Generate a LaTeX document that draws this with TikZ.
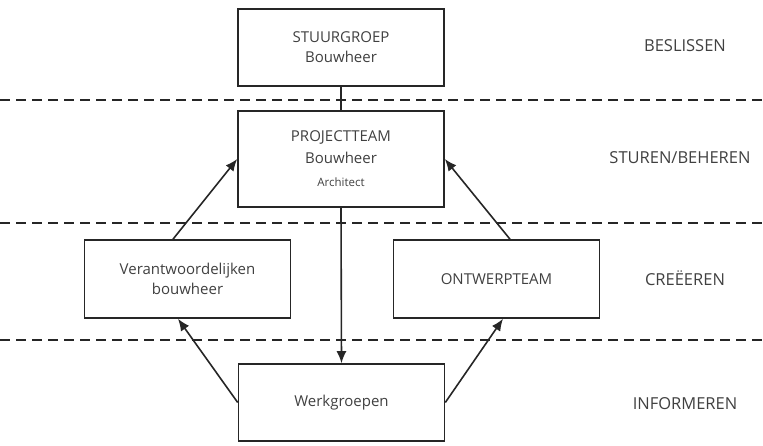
\documentclass[tikz,border=0pt]{standalone}
\usepackage{fontspec}
\setmainfont{Open Sans}
\usetikzlibrary{arrows.meta}

\tikzset{
  orgbox/.style={draw=black!85, line width=1.6pt, rectangle, align=center,
    minimum width=206pt, text=black!75, font=\fontsize{15}{20}\selectfont},
  levellabel/.style={text=black!75, font=\fontsize{16.5}{20}\selectfont},
  flow/.style={line width=1.6pt, draw=black!85, -{Latex[length=12pt,width=10pt]}},
  divider/.style={line width=1.8pt, draw=black!85, dash pattern=on 10pt off 6pt}
}

\begin{document}
\begin{tikzpicture}[x=1pt,y=-1pt]

    \useasboundingbox (0,0) rectangle (763,446);

    % Dashed level dividers
    \draw[divider] (0,100) -- (763,100);
    \draw[divider] (0,223) -- (763,223);
    \draw[divider] (0,340) -- (763,340);

    % Boxes
    \node[orgbox, minimum height=77pt] (stuur) at (341,47.5)
      {STUURGROEP\\Bouwheer};
    \node[orgbox, minimum height=96pt] (project) at (341,159)
      {PROJECTTEAM\\[2pt]Bouwheer\\[3pt]{\fontsize{11.5}{14}\selectfont Architect}};
    \node[orgbox, minimum height=78pt] (verant) at (187.5,279)
      {Verantwoordelijken\\bouwheer};
    \node[orgbox, minimum height=78pt] (ontwerp) at (496.5,279)
      {ONTWERPTEAM};
    \node[orgbox, minimum height=77pt] (werk) at (341.5,402.5)
      {Werkgroepen};

    % Connectors
    \draw[line width=1.6pt, draw=black!85] (stuur.south) -- (project.north);
    \draw[flow] (project.south) -- (werk.north);
    \draw[flow] ([xshift=-14.5pt]verant.north) -- (project.west);
    \draw[flow] ([xshift=13.5pt]ontwerp.north) -- (project.east);
    \draw[flow] (werk.west) -- ([xshift=-9.5pt]verant.south);
    \draw[flow] (werk.east) -- ([xshift=6.5pt]ontwerp.south);

    % Level labels
    \node[levellabel] (beslissen) at (685,46) {BESLISSEN};
    \node[levellabel] (sturen) at (680,158) {STUREN/BEHEREN};
    \node[levellabel] (creeeren) at (685,278) {CREËEREN};
    \node[levellabel] (informeren) at (685,404) {INFORMEREN};

\end{tikzpicture}
\end{document}
